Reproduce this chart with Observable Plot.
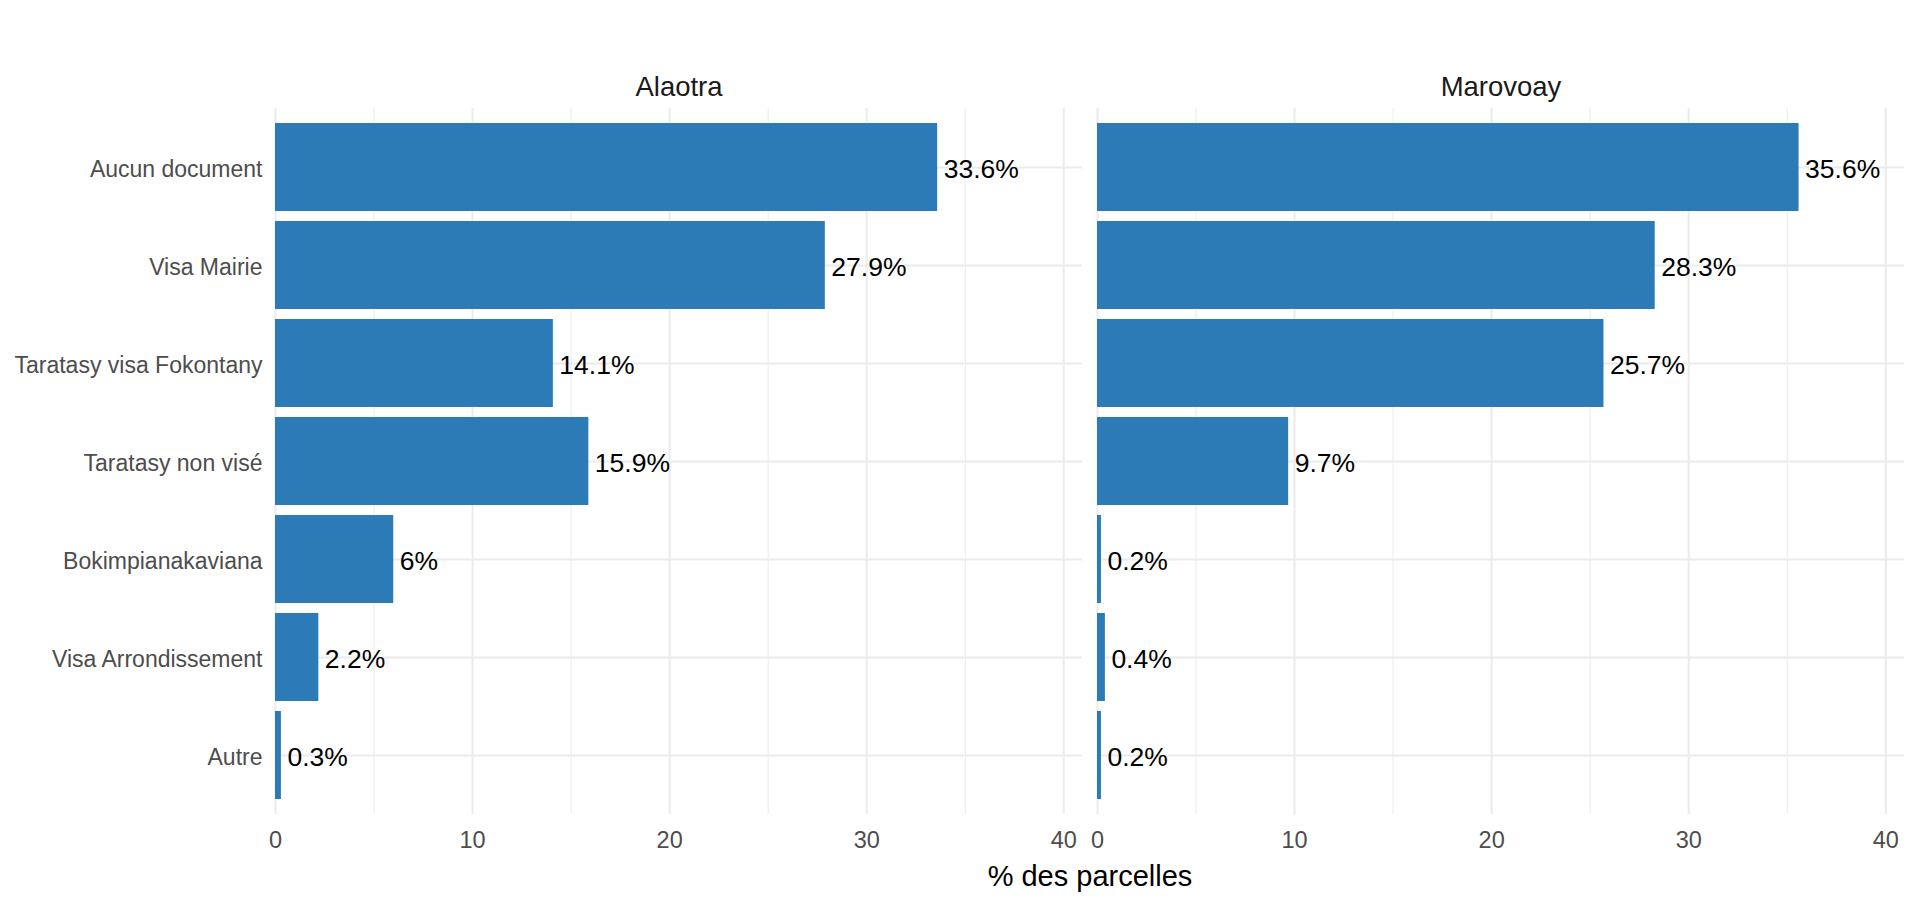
<!DOCTYPE html>
<html>
<head>
<meta charset="utf-8">
<script src="https://cdn.jsdelivr.net/npm/d3@7"></script>
<script src="https://cdn.jsdelivr.net/npm/@observablehq/plot@0.6"></script>
<style>
  html, body { margin: 0; padding: 0; background: #ffffff; }
  #chart { width: 1920px; height: 902px; }
</style>
</head>
<body>
<div id="chart"></div>
<script>
// ---- data ----
const categories = ["Aucun document", "Visa Mairie", "Taratasy visa Fokontany", "Taratasy non visé", "Bokimpianakaviana", "Visa Arrondissement", "Autre"];
const regions = ["Alaotra", "Marovoay"];
const alaotraValues = [33.6, 27.9, 14.1, 15.9, 6, 2.2, 0.3];
const marovoayValues = [35.6, 28.3, 25.7, 9.7, 0.2, 0.4, 0.2];
const xMajorTicks = [0, 10, 20, 30, 40];
const xMinorTicks = [5, 15, 25, 35];
const xAxisTitle = "% des parcelles";

const rows = [];
categories.forEach((c, i) => {
  rows.push({region: regions[0], category: c, value: alaotraValues[i]});
  rows.push({region: regions[1], category: c, value: marovoayValues[i]});
});

const font = "'Liberation Sans', Arial, sans-serif";
const grid = "#EBEBEB";

const plot = Plot.plot({
  width: 1920,
  height: 902,
  marginLeft: 275,
  marginRight: 15,
  marginTop: 108,
  marginBottom: 88,
  style: {fontFamily: font, background: "#ffffff", overflow: "visible"},
  fx: {domain: regions, paddingInner: 0.0178, paddingOuter: 0, label: null},
  x: {domain: [0, 40.95], label: null},
  y: {domain: categories, paddingInner: 0.1, paddingOuter: 0.15, align: 0.5, label: null},
  marks: [
    Plot.ruleX(xMinorTicks, {stroke: grid, strokeWidth: 1}),
    Plot.ruleX(xMajorTicks, {stroke: grid, strokeWidth: 2}),
    Plot.ruleY(categories, {y: d => d, stroke: grid, strokeWidth: 2}),
    Plot.barX(rows, {x: "value", y: "category", fx: "region", fill: "#2C7BB6"}),
    Plot.text(rows, {
      x: "value", y: "category", fx: "region",
      text: d => d.value + "%",
      textAnchor: "start", dx: 6, dy: 2.5, fontSize: 26.5, fill: "#000000"
    }),
    Plot.axisY({tickSize: 0, tickPadding: 13, dy: 2.5, fontSize: 23, color: "#4D4D4D", label: null}),
    Plot.axisX({ticks: xMajorTicks, tickSize: 0, tickPadding: 17, fontSize: 23.5, color: "#4D4D4D", label: null}),
    Plot.axisFx({anchor: "top", tickSize: 0, tickPadding: 13, fontSize: 27.5, color: "#1A1A1A", label: null})
  ]
});

document.getElementById("chart").appendChild(plot);

// shared x-axis title below both panels
d3.select(plot).append("text")
  .attr("x", (275 + 1905) / 2)
  .attr("y", 877)
  .attr("dy", "0.32em")
  .attr("text-anchor", "middle")
  .attr("font-size", 29)
  .attr("font-family", font)
  .attr("fill", "#000000")
  .text(xAxisTitle);
</script>
</body>
</html>
